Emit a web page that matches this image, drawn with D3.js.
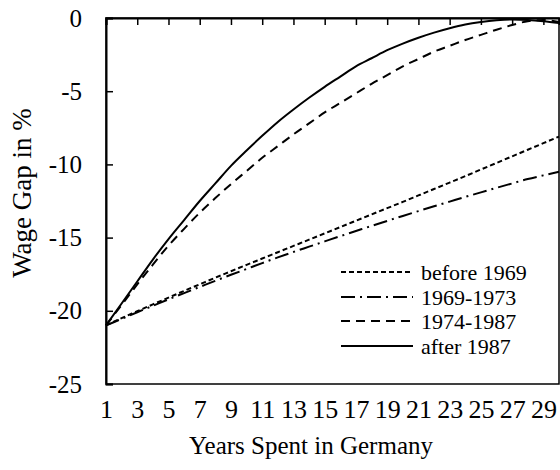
<!DOCTYPE html>
<html>
<head>
<meta charset="utf-8">
<script src="https://cdn.jsdelivr.net/npm/d3@7"></script>
<style>
  body { margin: 0; background: #fff; }
  svg text { font-family: "Liberation Serif", "Times New Roman", serif; fill: #000; }
</style>
</head>
<body>
<div id="chart"></div>
<script>
// 横軸：ドイツ滞在年数（1〜30年）
const years = d3.range(1, 31);

// 各コホートの賃金格差（%）、図から読み取った値
const before1969 = [-21.0, -20.5, -20.03, -19.56, -19.1, -18.64, -18.19, -17.74, -17.3, -16.86,
  -16.43, -16.0, -15.57, -15.14, -14.71, -14.28, -13.85, -13.42, -12.99, -12.56,
  -12.12, -11.68, -11.24, -10.8, -10.35, -9.9, -9.45, -9.0, -8.55, -8.1];
const c1969_1973 = [-21.0, -20.55, -20.1, -19.66, -19.22, -18.79, -18.37, -17.95, -17.54, -17.14,
  -16.74, -16.35, -15.98, -15.62, -15.26, -14.9, -14.55, -14.2, -13.86, -13.52,
  -13.19, -12.86, -12.54, -12.22, -11.91, -11.6, -11.3, -11.0, -10.75, -10.5];
const c1974_1987 = [-21.0, -19.6, -18.2, -16.85, -15.55, -14.4, -13.3, -12.3, -11.35, -10.45,
  -9.55, -8.75, -7.95, -7.2, -6.45, -5.8, -5.15, -4.5, -3.9, -3.3,
  -2.8, -2.3, -1.9, -1.5, -1.15, -0.8, -0.48, -0.22, -0.14, -0.28];
const after1987 = [-21.0, -19.5, -18.0, -16.5, -15.1, -13.8, -12.5, -11.3, -10.1, -9.05,
  -8.05, -7.1, -6.25, -5.45, -4.7, -4.0, -3.3, -2.75, -2.2, -1.75,
  -1.35, -1.0, -0.7, -0.45, -0.28, -0.16, -0.1, -0.13, -0.22, -0.35];

// 目盛り
const xTicks = d3.range(1, 30, 2);
const yTicks = [0, -5, -10, -15, -20, -25];

const seriesNames = ["before 1969", "1969-1973", "1974-1987", "after 1987"];
const seriesValues = [before1969, c1969_1973, c1974_1987, after1987];
const dashes = ["5,3", "14,5,2,5", "9,6", null];

const width = 560, height = 470;
const margin = {top: 18, right: 1, bottom: 86, left: 106};

const svg = d3.select("#chart").append("svg")
  .attr("width", width)
  .attr("height", height);

const x = d3.scaleLinear().domain([1, 30]).range([margin.left, width - margin.right]);
const y = d3.scaleLinear().domain([-25, 0]).range([height - margin.bottom, margin.top]);

// 枠線
svg.append("rect")
  .attr("x", x(1)).attr("y", y(0))
  .attr("width", x(30) - x(1)).attr("height", y(-25) - y(0))
  .attr("fill", "none").attr("stroke", "#000").attr("stroke-width", 1.5);

// y軸（内向きの目盛り）、マイナスはハイフン表記
const yAxis = svg.append("g")
  .attr("transform", `translate(${x(1)},0)`)
  .call(d3.axisLeft(y).tickValues(yTicks).tickSize(-7).tickPadding(24).tickFormat(d => String(d)));
yAxis.select(".domain").attr("stroke-width", 2);
yAxis.selectAll(".tick line").attr("stroke-width", 1.5);
yAxis.selectAll("text").style("font-size", "25px");

// 上側の x軸（0 で交差、目盛りのみ）
const xTop = svg.append("g")
  .attr("transform", `translate(0,${y(0)})`)
  .call(d3.axisTop(x).tickValues(xTicks).tickSize(-7).tickFormat(""));
xTop.select(".domain").attr("stroke-width", 2);
xTop.selectAll(".tick line").attr("stroke-width", 1.5);

// x軸ラベル（下側）
const xBottom = svg.append("g")
  .attr("transform", `translate(0,${y(-25)})`)
  .call(d3.axisBottom(x).tickValues(xTicks).tickSize(0).tickPadding(16));
xBottom.select(".domain").remove();
xBottom.selectAll("text").style("font-size", "26px");

// 折れ線
const line = d3.line()
  .x((d, i) => x(years[i]))
  .y(d => y(d))
  .curve(d3.curveMonotoneX);

seriesValues.forEach((vals, i) => {
  svg.append("path")
    .datum(vals)
    .attr("fill", "none")
    .attr("stroke", "#000")
    .attr("stroke-width", 2)
    .attr("stroke-dasharray", dashes[i])
    .attr("d", line);
});

// 凡例
const legend = svg.append("g");
const legendY = [272, 297, 321, 346];
seriesNames.forEach((name, i) => {
  legend.append("line")
    .attr("x1", 341).attr("x2", 413)
    .attr("y1", legendY[i]).attr("y2", legendY[i])
    .attr("stroke", "#000").attr("stroke-width", 2)
    .attr("stroke-dasharray", dashes[i]);
  legend.append("text")
    .attr("x", 421).attr("y", legendY[i])
    .attr("dy", "0.35em")
    .style("font-size", "22px")
    .text(name);
});

// 軸タイトル
svg.append("text")
  .attr("x", 311).attr("y", 454)
  .attr("text-anchor", "middle")
  .style("font-size", "25px")
  .text("Years Spent in Germany");

svg.append("text")
  .attr("transform", "translate(31,193) rotate(-90)")
  .attr("text-anchor", "middle")
  .style("font-size", "27px")
  .text("Wage Gap in %");
</script>
</body>
</html>
